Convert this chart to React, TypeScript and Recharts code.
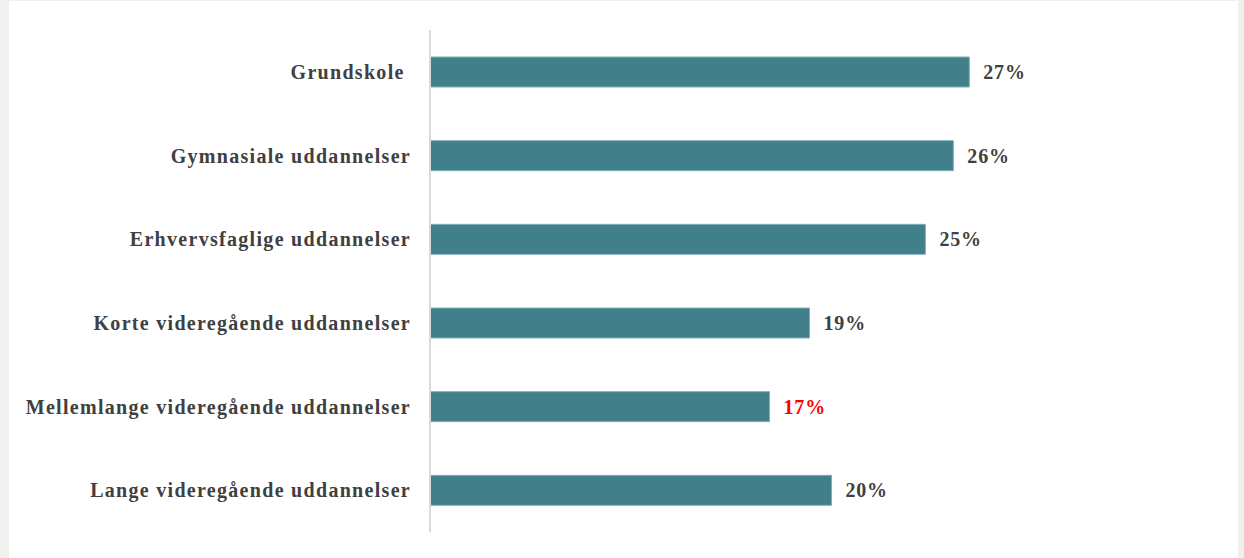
import React from "react";
import { BarChart, Bar, XAxis, YAxis, LabelList } from "recharts";

const categories = [
  "Grundskole\u00a0",
  "Gymnasiale uddannelser",
  "Erhvervsfaglige uddannelser",
  "Korte videregående uddannelser",
  "Mellemlange videregående uddannelser",
  "Lange videregående uddannelser",
];
const values = [27.0, 26.2, 24.8, 19.0, 17.0, 20.1];
const highlighted = [false, false, false, false, true, false];

const data = categories.map((c, i) => ({ name: c, value: values[i], hl: highlighted[i] }));

const FONT = "'Liberation Serif', 'Times New Roman', serif";

const ValueLabel = (props: any) => {
  const { x, y, width, height, value, index } = props;
  const hl = highlighted[index];
  return (
    <text
      x={x + width + 14}
      y={y + height / 2}
      dy="0.35em"
      fill={hl ? "#ff0000" : "#404040"}
      fontFamily={FONT}
      fontWeight="bold"
      fontSize={20}
      letterSpacing={0.8}
      textAnchor="start"
    >
      {Math.round(value)}%
    </text>
  );
};

export default function App() {
  return (
    <div
      style={{
        position: "absolute",
        left: 0,
        top: 0,
        width: 1244,
        height: 558,
        background: "#f0f0ee",
        overflow: "hidden",
      }}
    >
      <div
        style={{
          position: "absolute",
          left: 9,
          top: 1,
          width: 1229,
          height: 557,
          background: "#ffffff",
        }}
      >
        <BarChart
          width={1229}
          height={557}
          data={data}
          layout="vertical"
          margin={{ top: 29, right: 9, bottom: 26, left: 0 }}
          barSize={30}
        >
          <XAxis type="number" domain={[0, 40]} hide />
          <YAxis
            type="category"
            dataKey="name"
            width={421}
            tickLine={false}
            tickSize={0}
            tickMargin={19}
            axisLine={{ stroke: "#d9d9d9", strokeWidth: 2 }}
            tick={{ fill: "#404040", fontFamily: FONT, fontWeight: "bold", fontSize: 20, letterSpacing: 1.3 }}
            interval={0}
          />
          <Bar dataKey="value" fill="#41808a" stroke="#7fb0b6" strokeWidth={1} isAnimationActive={false}>
            <LabelList dataKey="value" content={ValueLabel} />
          </Bar>
        </BarChart>
      </div>
    </div>
  );
}
